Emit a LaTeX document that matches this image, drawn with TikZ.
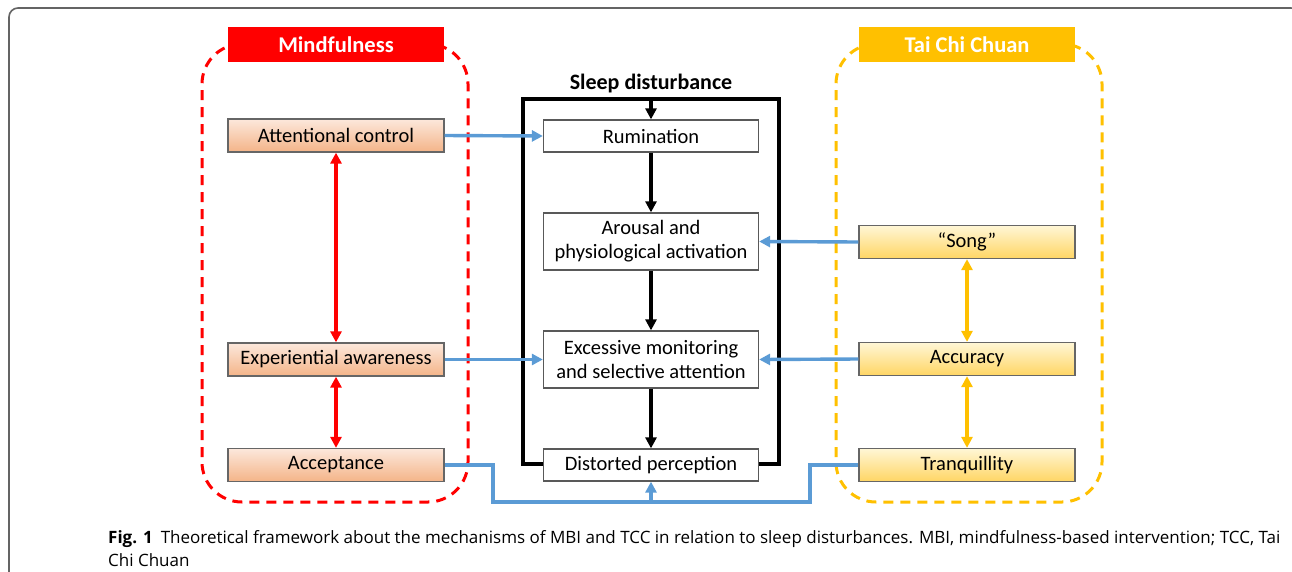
\documentclass[tikz,border=0pt]{standalone}
\usepackage{fontspec}
\setmainfont{Carlito}
\newfontfamily\capfont{Open Sans}
\usetikzlibrary{arrows.meta}
\usetikzlibrary{positioning}
\definecolor{mindred}{RGB}{255,0,0}
\definecolor{taiyellow}{RGB}{255,192,0}
\definecolor{linkblue}{RGB}{91,155,213}
\definecolor{peachtop}{RGB}{252,232,220}
\definecolor{peachbot}{RGB}{244,180,136}
\definecolor{yeltop}{RGB}{255,246,214}
\definecolor{yelbot}{RGB}{255,214,100}
\definecolor{framegray}{RGB}{100,100,100}

\begin{document}
\begin{tikzpicture}[x=1pt,y=-1pt,
  txt/.style={font=\fontsize{20.5}{24}\selectfont},
  mindbox/.style={txt, draw=black!60, line width=1.3pt, inner sep=0pt,
    minimum width=216pt, minimum height=33pt,
    top color=peachtop, bottom color=peachbot},
  taibox/.style={mindbox, top color=yeltop, bottom color=yelbot},
  sleepstep/.style={txt, draw=black!65, line width=1.3pt, fill=white,
    inner sep=0pt, minimum width=215pt, minimum height=32pt, align=center},
  grouptitle/.style={font=\fontsize{22.5}{26}\selectfont\bfseries, text=white,
    minimum width=216pt, minimum height=35pt, inner sep=0pt},
  groupframe/.style={draw, dashed, dash pattern=on 10pt off 7pt,
    line width=3pt, rounded corners=40pt, minimum width=266pt,
    minimum height=458pt},
  tip/.style={-{Triangle[length=11pt,width=11pt]}},
  twotip/.style={{Triangle[length=11pt,width=11pt]}-{Triangle[length=11pt,width=11pt]}},
  blackflow/.style={tip, line width=3.4pt, black},
  redlink/.style={twotip, line width=3.4pt, mindred},
  yellink/.style={twotip, line width=3.4pt, taiyellow},
  bluelink/.style={line width=3.4pt, linkblue}
]
\useasboundingbox (0,0) rectangle (1292,571);

% outer frame of the figure
\begin{scope}
  \clip (0,0) rectangle (1292,571);
  \draw[framegray, line width=1.6pt, rounded corners=9pt] (9,8) rectangle (1300,582);
\end{scope}

%---------------------------------------
% Mindfulness (left)
%---------------------------------------
\node[groupframe, draw=mindred] (mindframe) at (335,273) {};
\node[grouptitle, fill=mindred] (mindtitle) at (336,44.5) {Mindfulness};

\node[mindbox] (attn) at (336,135.5) {Attentional control};
\node[mindbox] (exper) at (336,359.5) {Experiential awareness};
\node[mindbox] (accept) at (336,465) {Acceptance};

\draw[redlink] (attn.south) -- (exper.north);
\draw[redlink] (exper.south) -- (accept.north);

%---------------------------------------
% Sleep disturbance (middle)
%---------------------------------------
\node[font=\fontsize{22}{26}\selectfont\bfseries] (sleeptitle) at (651,84) {Sleep disturbance};
\node[draw, line width=4pt, minimum width=256pt, minimum height=365pt,
      inner sep=0pt] (sleepbox) at (651,281.5) {};

\node[sleepstep] (rumin) at (651,136) {Rumination};
\node[sleepstep, minimum height=57pt] (arous) at (651,241.5)
  {Arousal and\\[0pt]physiological activation};
\node[sleepstep, minimum height=57pt] (excess) at (651,359.5)
  {Excessive monitoring\\[0pt]and selective attention};
\node[sleepstep] (distort) at (651,465) {Distorted perception};

\draw[blackflow] (sleepbox.north) -- (rumin.north);
\draw[blackflow] (rumin.south) -- (arous.north);
\draw[blackflow] (arous.south) -- (excess.north);
\draw[blackflow] (excess.south) -- (distort.north);

%---------------------------------------
% Tai Chi Chuan (right)
%---------------------------------------
\node[groupframe, draw=taiyellow] (taiframe) at (969,273) {};
\node[grouptitle, fill=taiyellow] (taititle) at (967,44.5) {Tai Chi Chuan};

\node[taibox] (song) at (967,242) {``Song''};
\node[taibox] (accur) at (967,359) {Accuracy};
\node[taibox] (tranq) at (967,465) {Tranquillity};

\draw[yellink] (song.south) -- (accur.north);
\draw[yellink] (accur.south) -- (tranq.north);

%---------------------------------------
% Links between the groups
%---------------------------------------
\coordinate (botleft) at (493,502);
\coordinate (botright) at (810,502);

\draw[bluelink, tip] (attn.east) -- (rumin.west);
\draw[bluelink, tip] (exper.east) -- (excess.west);
\draw[bluelink, tip] (song.west) -- (arous.east);
\draw[bluelink, tip] (accur.west) -- (excess.east);
\draw[bluelink] (accept.east) -| (botleft) -- (botright) |- (tranq.west);
\draw[bluelink, tip] (distort.south |- botleft) -- (distort.south);

% caption
\node[anchor=base west, align=left, inner sep=0pt,
      font=\capfont\fontsize{17}{23}\selectfont] (caption) at (108,566)
  {\textbf{Fig. 1}\hspace{8pt}Theoretical framework about the mechanisms of MBI and TCC in relation to sleep disturbances. MBI, mindfulness-based intervention; TCC, Tai\\Chi Chuan};
\end{tikzpicture}
\end{document}
